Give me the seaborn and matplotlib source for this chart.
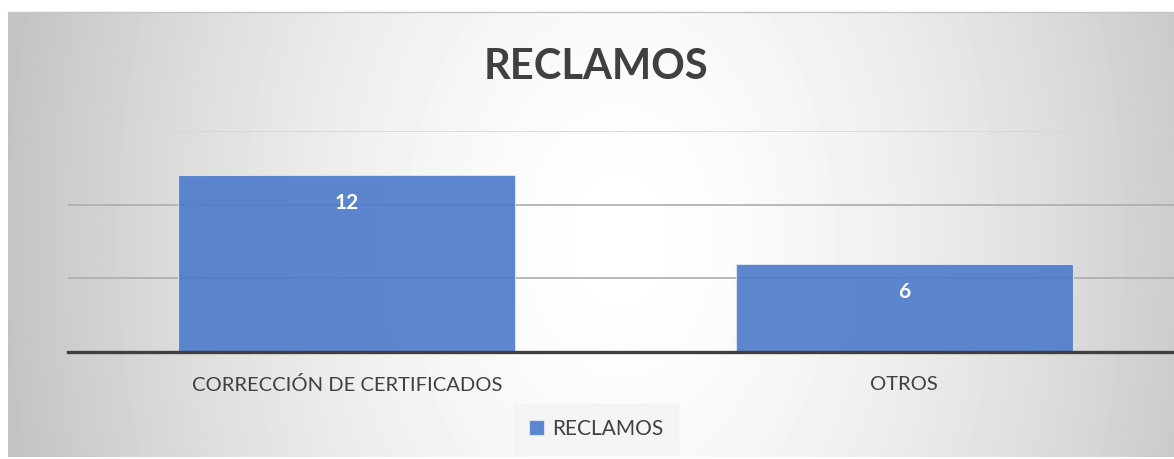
import numpy as np
import pandas as pd
import matplotlib.pyplot as plt
import seaborn as sns

categories = ["CORRECCIÓN DE CERTIFICADOS", "OTROS"]
values = [12, 6]
series_name = "RECLAMOS"
title = "RECLAMOS"
grid_ticks = [0, 5, 10, 15]

W, H = 1174, 459

sns.set_theme(style="white")
plt.rcParams["font.family"] = ["Lato", "DejaVu Sans"]

fig = plt.figure(figsize=(W / 100, H / 100), dpi=100)

# background: radial grey gradient like the office chart area
bg = fig.add_axes([8 / W, 2 / H, 1 - 8 / W, (H - 14) / H])
yy, xx = np.mgrid[12:457, 8:W]
r = np.sqrt(((xx - 620) / 620.0) ** 2 + ((yy - 240) / 900.0) ** 2)
r = np.clip(r, 0, 1)
shade = 1.0 - 0.235 * r ** 1.6
bg.imshow(shade, cmap="gray", vmin=0, vmax=1, aspect="auto", interpolation="bilinear")
bg.axis("off")
fig.add_artist(plt.Line2D([8 / W, 1], [1 - 12 / H, 1 - 12 / H], color="#c4c4c4", lw=1))

df = pd.DataFrame({"cat": categories, "val": values})

ax = fig.add_axes([68 / W, (H - 352) / H, (1183 - 68) / W, (352 - 131) / H])
ax.patch.set_alpha(0)
sns.barplot(data=df, x="cat", y="val", color="#4b7ac9", saturation=1, alpha=0.9, width=0.604,
            edgecolor="#dfe6f3", linewidth=0.8, label=series_name, ax=ax, zorder=3)
if ax.get_legend() is not None:
    ax.get_legend().remove()
ax.set_ylim(0, 15)
ax.set_xlim(-0.5, 1.5)
ax.set_yticks(grid_ticks)
ax.yaxis.grid(True, color="#adadad", lw=1.2, zorder=0)
ax.get_ygridlines()[-1].set_color("#d6d6d6")
ax.set_axisbelow(True)
ax.tick_params(axis="y", left=False, labelleft=False)
ax.tick_params(axis="x", bottom=False, labelsize=14.5, colors="#404040", pad=11)
for s in ["top", "right", "left"]:
    ax.spines[s].set_visible(False)
ax.spines["bottom"].set_color("#404040")
ax.spines["bottom"].set_linewidth(2.4)
ax.spines["bottom"].set_zorder(5)
ax.set_xlabel("")
ax.set_ylabel("")

for i, v in enumerate(values):
    ax.text(i, v - 1.9, str(v), ha="center", va="center", color="white",
            fontsize=15, fontweight="bold", zorder=6)

fig.text(596 / W, 1 - 67 / H, title, ha="center", va="center", fontsize=30,
         fontweight="bold", color="#404040")

handles, labels = ax.get_legend_handles_labels()
leg = fig.legend(handles[:1], labels[:1], loc="center", bbox_to_anchor=(596 / W, 1 - 429 / H),
                 frameon=True, fontsize=15, handlelength=0.7, handleheight=0.7,
                 handletextpad=0.4, borderpad=0.7, fancybox=False)
leg.get_frame().set_facecolor("#f4f4f4")
leg.get_frame().set_edgecolor("#f4f4f4")
for t in leg.get_texts():
    t.set_color("#404040")

fig.savefig("out.png", dpi=100)
